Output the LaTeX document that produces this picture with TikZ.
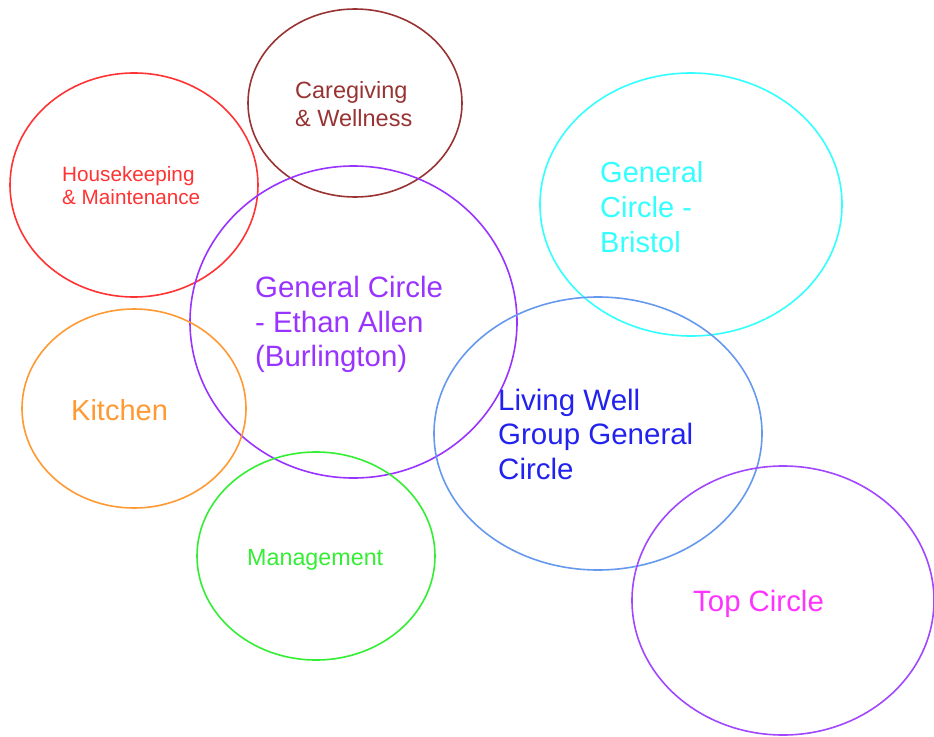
\documentclass[tikz,border=0pt]{standalone}
\usepackage{fontspec}
\setmainfont{Liberation Sans}
\usetikzlibrary{shapes.geometric}

\definecolor{cbrown}{HTML}{993333}
\definecolor{cred}{HTML}{FF3333}
\definecolor{cpurple}{HTML}{9933FF}
\definecolor{ctop}{HTML}{A047FF}
\definecolor{ccyan}{HTML}{33FFFF}
\definecolor{corange}{HTML}{FF9933}
\definecolor{cgreen}{HTML}{33EE33}
\definecolor{cblue}{HTML}{6699EE}
\definecolor{cbluetext}{HTML}{2222EE}
\definecolor{cmagenta}{HTML}{FF33FF}

\begin{document}
\begin{tikzpicture}[x=1pt,y=-1pt,
  ring/.style={draw, ellipse, line width=1.6pt, inner sep=0pt},
  % multi-line labels are placed by the baseline of their last line
  lbl/.style={anchor=base west, align=left, inner sep=0pt}]
\useasboundingbox (0,0) rectangle (934,736);

% circles
\node[ring, draw=cbrown,  minimum width=214pt, minimum height=188pt] (care)  at (355,103) {};
\node[ring, draw=cred,    minimum width=248pt, minimum height=224pt] (house) at (134,185) {};
\node[ring, draw=cpurple, minimum width=327pt, minimum height=312pt] (ethan) at (353.5,322) {};
\node[ring, draw=ccyan,   minimum width=302pt, minimum height=263pt] (bristol) at (691,204.5) {};
\node[ring, draw=corange, minimum width=224pt, minimum height=199pt] (kitchen) at (134,408.5) {};
\node[ring, draw=cblue,   minimum width=328pt, minimum height=273pt] (living) at (598,433.5) {};
\node[ring, draw=cgreen,  minimum width=238pt, minimum height=208pt] (mgmt) at (316,556) {};
\node[ring, draw=ctop,    minimum width=302pt, minimum height=269pt] (top) at (783,600.5) {};

% labels
\node[lbl, text=cbrown, font=\fontsize{23.5}{27.5}\selectfont] (careL) at (295,126)
  {Caregiving\\\& Wellness};
\node[lbl, text=cred, font=\fontsize{20.7}{23.5}\selectfont] (houseL) at (62,204.5)
  {Housekeeping\\\& Maintenance};
\node[lbl, text=cpurple, font=\fontsize{29.4}{34.5}\selectfont] (ethanL) at (255,366.5)
  {General Circle\\- Ethan Allen\\(Burlington)};
\node[lbl, text=ccyan, font=\fontsize{29}{35}\selectfont] (bristolL) at (600,252)
  {General\\Circle -\\Bristol};
\node[lbl, text=corange, font=\fontsize{29}{34}\selectfont] (kitchenL) at (71,420)
  {Kitchen};
\node[lbl, text=cbluetext, font=\fontsize{29.5}{34.5}\selectfont] (livingL) at (498,479)
  {Living Well\\Group General\\Circle};
\node[lbl, text=cgreen, font=\fontsize{23.3}{27}\selectfont] (mgmtL) at (247,565)
  {Management};
\node[lbl, text=cmagenta, font=\fontsize{29.4}{34}\selectfont] (topL) at (693,611)
  {Top Circle};
\end{tikzpicture}
\end{document}
